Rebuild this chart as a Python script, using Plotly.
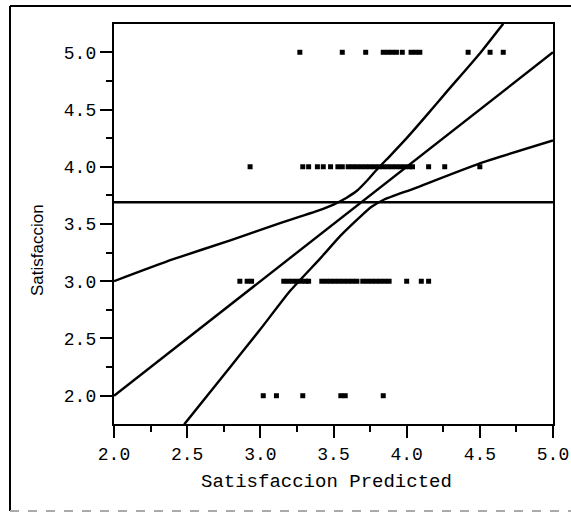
import plotly.graph_objects as go

# Observed satisfaction (rows) against predicted satisfaction (x)
row5_x = [3.27, 3.56, 3.72, 3.84, 3.87, 3.90, 3.93, 3.97, 4.03, 4.06, 4.09, 4.42, 4.57, 4.66]
row4_x = [2.93, 3.29, 3.33, 3.39, 3.43, 3.48, 3.53, 3.56, 3.60, 3.63, 3.66, 3.69, 3.72,
          3.75, 3.78, 3.81, 3.84, 3.87, 3.90, 3.93, 3.96, 3.99, 4.02, 4.04, 4.15, 4.26, 4.50]
row3_x = [2.86, 2.91, 2.94, 3.16, 3.19, 3.22, 3.25, 3.28, 3.31, 3.33, 3.42, 3.45, 3.48,
          3.51, 3.54, 3.57, 3.60, 3.63, 3.66, 3.70, 3.73, 3.76, 3.79, 3.82, 3.85, 3.88,
          4.00, 4.10, 4.15]
row2_x = [3.02, 3.11, 3.29, 3.55, 3.58, 3.84]
row_levels = [5.0, 4.0, 3.0, 2.0]

# Fit line, mean line and confidence curves
fit_x = [2.0, 5.0]
fit_y = [2.0, 5.0]
mean_y = 3.69
upper_x = [2.00, 2.40, 2.80, 3.14, 3.27, 3.39, 3.50, 3.59, 3.66, 3.73, 3.80, 3.89,
           4.00, 4.13, 4.27, 4.50, 4.66]
upper_y = [3.00, 3.19, 3.36, 3.51, 3.565, 3.615, 3.67, 3.73, 3.79, 3.88, 3.98, 4.10,
           4.25, 4.44, 4.65, 4.99, 5.25]
lower_x = [2.48, 2.80, 3.00, 3.20, 3.41, 3.55, 3.68, 3.76, 3.84, 4.05, 4.50, 5.00]
lower_y = [1.75, 2.26, 2.58, 2.91, 3.20, 3.40, 3.56, 3.65, 3.71, 3.81, 4.03, 4.23]

x_range = [2.0, 5.0]
y_range = [1.753, 5.247]
tick_vals = [2.0, 2.5, 3.0, 3.5, 4.0, 4.5, 5.0]
tick_text = ["2.0", "2.5", "3.0", "3.5", "4.0", "4.5", "5.0"]

W, H = 571, 513
L, R, T, B = 114, 18, 24, 89
PW, PH = W - L - R, H - T - B


def px_x(px):
    return (px - L) / PW


def px_y(py):
    return (H - B - py) / PH


INK = "#000000"

pts_x, pts_y = [], []
for xs, lvl in zip([row5_x, row4_x, row3_x, row2_x], row_levels):
    pts_x += xs
    pts_y += [lvl] * len(xs)

fig = go.Figure()
line_style = dict(color=INK, width=2.4)
curve_style = dict(color=INK, width=2.4, shape="spline", smoothing=0.5)
fig.add_trace(go.Scatter(x=[x_range[0], x_range[1]], y=[mean_y, mean_y], mode="lines",
                         line=line_style, hoverinfo="skip"))
fig.add_trace(go.Scatter(x=fit_x, y=fit_y, mode="lines", line=line_style, hoverinfo="skip"))
fig.add_trace(go.Scatter(x=upper_x, y=upper_y, mode="lines", line=curve_style,
                         hoverinfo="skip"))
fig.add_trace(go.Scatter(x=lower_x, y=lower_y, mode="lines", line=curve_style,
                         hoverinfo="skip"))
fig.add_trace(go.Scatter(x=pts_x, y=pts_y, mode="markers",
                         marker=dict(symbol="square", size=5, color=INK,
                                     line=dict(width=0))))

tick_font = dict(family="Liberation Mono", size=18, color=INK)
axis_common = dict(
    showgrid=False, zeroline=False, showline=True, linecolor=INK, linewidth=2.4,
    mirror=True, ticks="outside", ticklen=12, tickwidth=2.4, tickcolor=INK,
    tickvals=tick_vals, ticktext=tick_text, tickfont=tick_font, automargin=False,
    minor=dict(ticks="outside", ticklen=6, tickwidth=2.4, tickcolor=INK, dtick=0.25),
)

fig.update_layout(
    width=W, height=H, showlegend=False,
    margin=dict(l=L, r=R, t=T, b=B),
    paper_bgcolor="white", plot_bgcolor="white",
    xaxis=dict(range=x_range, **axis_common),
    yaxis=dict(range=y_range, **axis_common),
    annotations=[
        dict(text="Satisfaccion", xref="paper", yref="paper", x=px_x(38), y=px_y(250),
             xanchor="center", yanchor="middle", textangle=-90, showarrow=False,
             font=dict(family="Liberation Sans", size=17, color=INK)),
        dict(text="Satisfaccion Predicted", xref="paper", yref="paper", x=px_x(326),
             y=px_y(482), xanchor="center", yanchor="middle", showarrow=False,
             font=dict(family="Liberation Mono", size=19, color=INK)),
    ],
    shapes=[
        dict(type="line", xref="paper", yref="paper", x0=px_x(10), x1=px_x(10),
             y0=px_y(6), y1=px_y(511), line=dict(color=INK, width=2)),
        dict(type="line", xref="paper", yref="paper", x0=px_x(10), x1=px_x(571),
             y0=px_y(6), y1=px_y(6), line=dict(color=INK, width=2)),
        dict(type="line", xref="paper", yref="paper", x0=px_x(10), x1=px_x(571),
             y0=px_y(511), y1=px_y(511), line=dict(color="#aaaaaa", width=2, dash="dash")),
    ],
)

fig.write_html("out.html")
